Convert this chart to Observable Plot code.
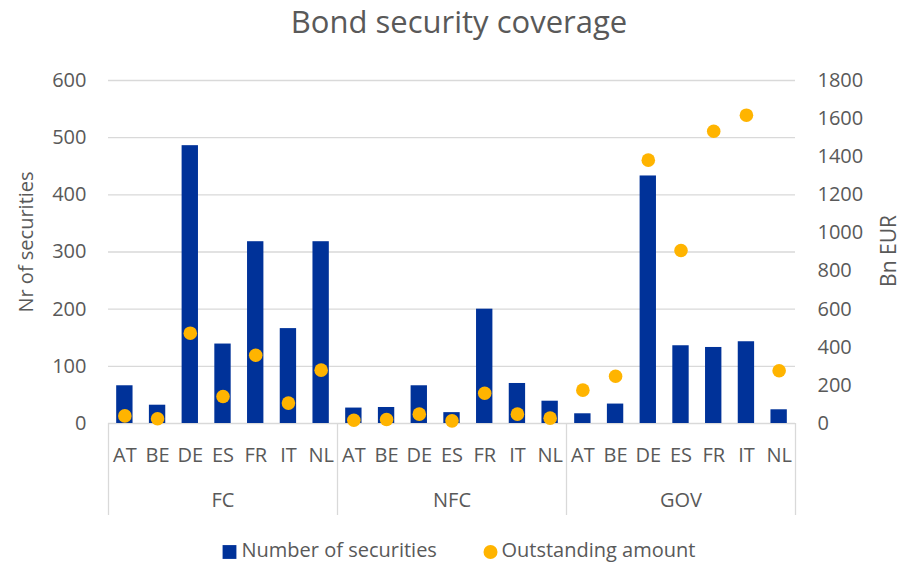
<!DOCTYPE html>
<html><head><meta charset="utf-8">
<script src="https://cdn.jsdelivr.net/npm/d3@7"></script>
<script src="https://cdn.jsdelivr.net/npm/@observablehq/plot@0.6"></script>
<style>body{margin:0;background:#fff;} #chart{width:901px;height:563px}</style>
</head><body><div id="chart"></div>
<script>
const groups = ["FC", "NFC", "GOV"];
const countries = ["AT", "BE", "DE", "ES", "FR", "IT", "NL"];
const securitiesFC  = [66, 32, 486, 139, 318, 166, 318];
const securitiesNFC = [27, 28, 66, 19, 200, 70, 39];
const securitiesGOV = [17, 34, 433, 136, 133, 143, 24];
const amountFC  = [40, 25, 474, 142, 358, 107, 280];
const amountNFC = [17, 21, 49, 14, 159, 49, 28];
const amountGOV = [175, 248, 1382, 908, 1534, 1618, 277];
const leftTicks = [0, 100, 200, 300, 400, 500, 600];
const rightTicks = [0, 200, 400, 600, 800, 1000, 1200, 1400, 1600, 1800];
const title = "Bond security coverage";
const leftLabel = "Nr of securities";
const rightLabel = "Bn EUR";
const legendBars = "Number of securities";
const legendDots = "Outstanding amount";

const secBy = {FC: securitiesFC, NFC: securitiesNFC, GOV: securitiesGOV};
const amtBy = {FC: amountFC, NFC: amountNFC, GOV: amountGOV};
const data = groups.flatMap(g => countries.map((c, i) => ({
  key: g + "|" + c, group: g, country: c, securities: secBy[g][i], amount: amtBy[g][i]
})));
const keys = data.map(d => d.key);
const middleCountry = countries[Math.floor(countries.length / 2)];

const W = 901, H = 563, mL = 108, mR = 106, mT = 80, mB = 140;
const step = (W - mL - mR) / keys.length;
const cx = mL + (W - mL - mR) / 2;
const ratio = 1800 / 600;
const txt = "#595959", grid = "#d9d9d9";
const font = "'Open Sans', sans-serif";
const mid = {lineAnchor: "middle", fill: txt};

const plot = Plot.plot({
  width: W, height: H,
  marginLeft: mL, marginRight: mR, marginTop: mT, marginBottom: mB,
  style: {fontFamily: font, color: txt, background: "#fff", overflow: "visible"},
  x: {domain: keys, paddingInner: 0.5, paddingOuter: 0.25, round: false, axis: null},
  y: {domain: [0, 600], axis: null},
  marks: [
    Plot.gridY(leftTicks, {stroke: grid, strokeOpacity: 1, strokeWidth: 1.3}),
    Plot.axisY({anchor: "left", ticks: leftTicks, tickSize: 0, tickPadding: 22, fontSize: 20, label: null, fill: txt}),
    Plot.axisY({anchor: "right", ticks: rightTicks.map(v => v / ratio), tickFormat: d => String(Math.round(d * ratio)), tickSize: 0, tickPadding: 22, fontSize: 20, label: null, fill: txt}),
    Plot.axisX({ticks: keys, tickFormat: d => d.split("|")[1], tickSize: 0, tickPadding: 24, fontSize: 20, label: null, fill: txt}),
    Plot.ruleX(groups.map(g => g + "|AT"), {dx: -step / 2, stroke: grid, strokeWidth: 1.3, insetTop: H - mT - mB, insetBottom: -92}),
    Plot.ruleX(["GOV|NL"], {dx: step / 2, stroke: grid, strokeWidth: 1.3, insetTop: H - mT - mB, insetBottom: -92}),
    Plot.text(groups, {x: g => g + "|" + middleCountry, text: d => d, frameAnchor: "bottom", dy: 77.5, fontSize: 20, textAnchor: "middle", ...mid}),
    Plot.barY(data, {x: "key", y: "securities", fill: "#003299"}),
    Plot.dot(data, {x: "key", y: d => d.amount / ratio, r: 6.8, fill: "#FFB400"}),
    Plot.text([title], {frameAnchor: "top", dy: -57.5, dx: 7, fontSize: 31, textAnchor: "middle", ...mid}),
    Plot.text([leftLabel], {frameAnchor: "left", dx: -82, dy: -10, rotate: -90, fontSize: 20, textAnchor: "middle", ...mid}),
    Plot.text([rightLabel], {frameAnchor: "right", dx: 94, dy: -1, rotate: -90, fontSize: 21, textAnchor: "middle", ...mid}),
    Plot.dot([0], {frameAnchor: "bottom", dx: 229 - cx, dy: 128.5, symbol: "square", r: 7.8, fill: "#003299"}),
    Plot.text([legendBars], {frameAnchor: "bottom", dx: 241 - cx, dy: 127.5, fontSize: 20, textAnchor: "start", ...mid}),
    Plot.dot([0], {frameAnchor: "bottom", dx: 490 - cx, dy: 128.5, r: 7, fill: "#FFB400"}),
    Plot.text([legendDots], {frameAnchor: "bottom", dx: 501 - cx, dy: 127.5, fontSize: 20, textAnchor: "start", ...mid})
  ]
});
document.getElementById("chart").appendChild(plot);
</script>
</body></html>
